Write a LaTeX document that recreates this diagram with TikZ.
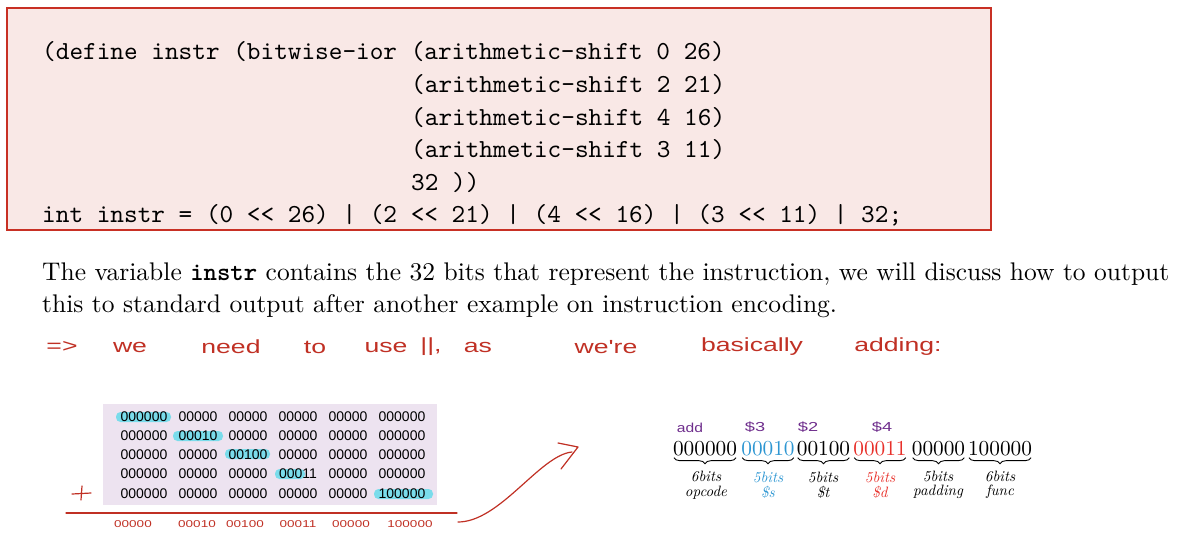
\documentclass[tikz,border=0pt]{standalone}
\usepackage{fontspec}
\usetikzlibrary{decorations.pathreplacing}
\newfontfamily\handfont{Liberation Sans}
\newfontfamily\gridfont{Liberation Sans}
\newfontfamily\lmten{lmroman10-regular.otf}[ItalicFont=lmroman10-italic.otf, BoldFont=lmroman10-bold.otf]
\newfontfamily\lmcode{lmmono10-regular.otf}

\definecolor{boxred}{RGB}{200,48,36}
\definecolor{boxfill}{RGB}{249,232,230}
\definecolor{inkred}{RGB}{192,48,36}
\definecolor{lavender}{RGB}{237,227,240}
\definecolor{marker}{RGB}{122,220,235}
\definecolor{regblue}{RGB}{45,150,210}
\definecolor{regred}{RGB}{232,48,42}
\definecolor{inkpurple}{RGB}{110,45,140}

\tikzset{
  codeline/.style={anchor=base west, inner sep=0pt, font=\lmcode\fontsize{26}{30}\selectfont},
  bodyline/.style={anchor=base west, inner sep=0pt, font=\lmten\fontsize{25.5}{30}\selectfont},
  inkword/.style={inner sep=0pt, text=inkred, font=\fontsize{19}{22}\handfont},
  ink/.style={draw=inkred, line width=1.2pt, line cap=round, line join=round},
  gridcell/.style={inner sep=0pt, font=\fontsize{14}{16}\gridfont},
  hilite/.style={fill=marker, rounded corners=4.5pt},
  sumdigits/.style={inner sep=0pt, text=inkred, font=\fontsize{10}{12}\handfont},
  field/.style={anchor=base, inner sep=0pt, font=\lmten\fontsize{21.3}{24}\selectfont},
  fieldbrace/.style={decorate, decoration={brace, mirror, amplitude=6pt, raise=2pt}, line width=0.9pt},
  fieldlabel/.style={align=center, inner sep=0pt, font=\lmten\fontsize{15}{14.5}\selectfont\itshape},
  regnote/.style={inner sep=0pt, text=inkpurple, font=\fontsize{13}{15}\handfont},
}

\begin{document}
\begin{tikzpicture}[x=1pt, y=-1pt]
\useasboundingbox (0,0) rectangle (1196,536);

% code listing box
\draw[boxred, fill=boxfill, line width=1.6pt] (7,8) rectangle (991,230);
\node[codeline] (c1) at (42,59)  {(define instr (bitwise-ior (arithmetic-shift 0 26)};
\node[codeline] (c2) at (411,92) {(arithmetic-shift 2 21)};
\node[codeline] (c3) at (411,125) {(arithmetic-shift 4 16)};
\node[codeline] (c4) at (411,157) {(arithmetic-shift 3 11)};
\node[codeline] (c5) at (411,190) {32 ))};
\node[codeline] (c6) at (42,222) {int instr = (0 << 26) | (2 << 21) | (4 << 16) | (3 << 11) | 32;};

% paragraph
\node[bodyline] (p1) at (42,280) {The variable \texttt{\bfseries instr} contains the 32 bits that represent the instruction, we will discuss how to output};
\node[bodyline] (p2) at (42,312) {this to standard output after another example on instruction encoding.};

% handwritten remark
\foreach \w/\x/\t in {h1/62/{=>}, h2/130/{we}, h3/231/{need}, h4/315/{to}, h5/386/{use}, h6/431/{||,}, h7/478/{as}, h8/606/{we're}, h9/752/{basically}, h10/898/{adding:}}
  \node[inkword] (\w) at (\x,347) {\scalebox{1.4}[1]{\t}};

% grid of shifted fields
\fill[lavender] (103,404) rectangle (437,505);
\fill[hilite] (116,412) rectangle (171,422);
\fill[hilite] (173,431) rectangle (223,441);
\fill[hilite] (225,449) rectangle (270,459);
\fill[hilite] (275,469) rectangle (305,479);
\fill[hilite] (374,489) rectangle (433,499);
\foreach \r/\y/\a/\b/\c/\d/\e/\f in {
  1/417/000000/00000/00000/00000/00000/000000,
  2/436/000000/00010/00000/00000/00000/000000,
  3/455/000000/00000/00100/00000/00000/000000,
  4/474/000000/00000/00000/00011/00000/000000,
  5/494/000000/00000/00000/00000/00000/100000}{
  \node[gridcell] (r\r c1) at (144,\y) {\a};
  \node[gridcell] (r\r c2) at (198,\y) {\b};
  \node[gridcell] (r\r c3) at (248,\y) {\c};
  \node[gridcell] (r\r c4) at (298,\y) {\d};
  \node[gridcell] (r\r c5) at (348,\y) {\e};
  \node[gridcell] (r\r c6) at (402,\y) {\f};
}

% plus sign and sum line
\coordinate (plusW) at (72,494);
\coordinate (plusE) at (91,493);
\coordinate (plusN) at (82,486);
\coordinate (plusS) at (81,500);
\draw[ink] (plusW) -- (plusE) (plusN) -- (plusS);
\coordinate (sumL) at (66,513);
\coordinate (sumR) at (457,513);
\draw[ink] (sumL) -- (sumR);
\foreach \n/\x/\t in {s1/133/00000, s2/197/00010, s3/245/00100, s4/298/00011, s5/351/00000, s6/410/100000}
  \node[sumdigits] (\n) at (\x,524) {\scalebox{1.35}[1]{\t}};

% arrow to the encoded instruction
\coordinate (arrS) at (458,522);
\coordinate (arrE) at (572,452);
\coordinate (arrT) at (578,447);
\coordinate (barbA) at (558,443);
\coordinate (barbB) at (561,469);
\draw[ink] (arrS) .. controls (500,522) and (540,455) .. (arrE);
\draw[ink] (barbA) -- (arrT) -- (barbB);

% encoded instruction with fields
\node[field] (g1) at (705,455) {000000};
\node[field, text=regblue] (g2) at (768,455) {00010};
\node[field] (g3) at (823.5,455) {00100};
\node[field, text=regred] (g4) at (880,455) {00011};
\node[field] (g5) at (938.5,455) {00000};
\node[field] (g6) at (1000,455) {100000};
\foreach \g in {g1,g2,g3,g4,g5,g6}
  \draw[fieldbrace] ([xshift=1pt]\g.south west) -- ([xshift=-1pt]\g.south east);

\node[fieldlabel] (l1) at (706,485) {6bits\\opcode};
\node[fieldlabel, text=regblue] (l2) at (768,485) {5bits\\\$s};
\node[fieldlabel] (l3) at (823,485) {5bits\\\$t};
\node[fieldlabel, text=regred] (l4) at (880,485) {5bits\\\$d};
\node[fieldlabel] (l5) at (938,485) {5bits\\padding};
\node[fieldlabel] (l6) at (1000,485) {6bits\\func};

% register annotations
\node[regnote] (n1) at (690,428) {\scalebox{1.2}[1]{add}};
\node[regnote] (n2) at (755,427) {\scalebox{1.4}[1]{\$3}};
\node[regnote] (n3) at (808,427) {\scalebox{1.4}[1]{\$2}};
\node[regnote] (n4) at (882,427) {\scalebox{1.4}[1]{\$4}};
\end{tikzpicture}
\end{document}
